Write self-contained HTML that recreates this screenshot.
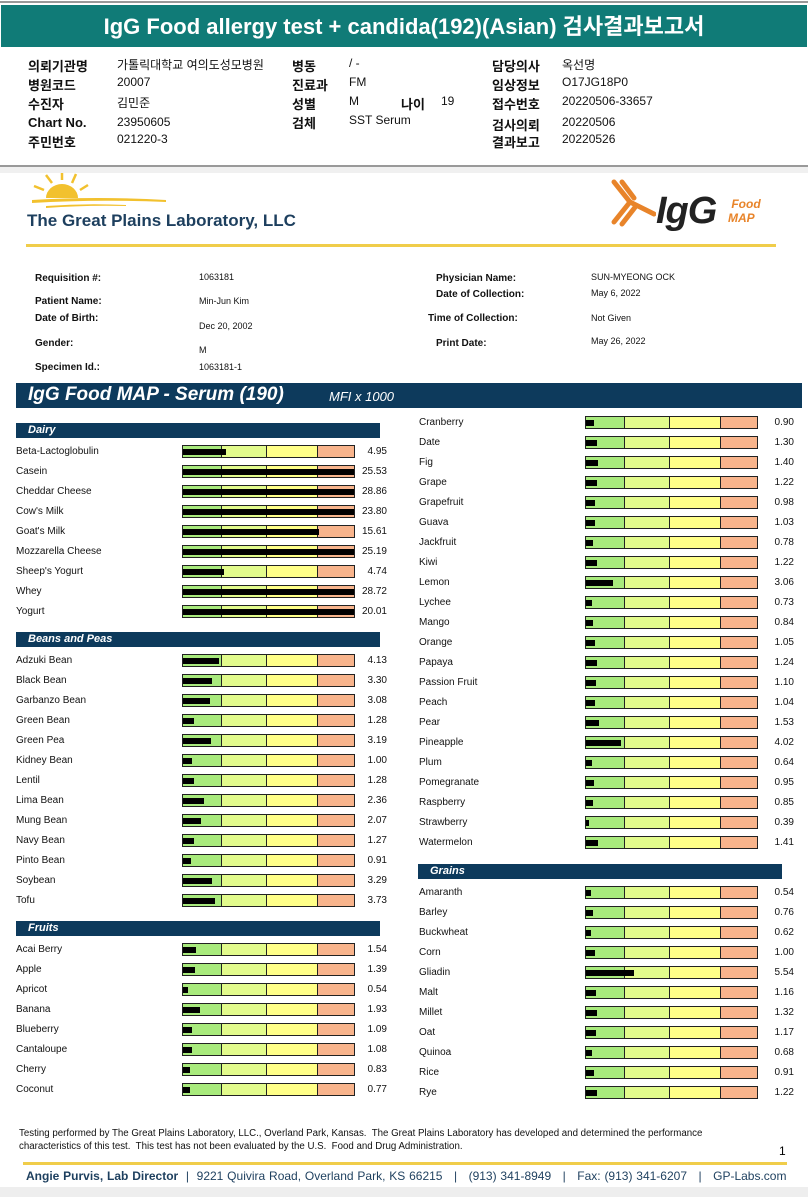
<!DOCTYPE html>
<html><head><meta charset="utf-8"><style>
body{margin:0;width:808px;height:1197px;position:relative;background:#fff;font-family:"Liberation Sans","Noto Sans CJK KR",sans-serif;overflow:hidden}
.a{position:absolute;white-space:nowrap}
.k{font-family:"Liberation Sans","Noto Sans CJK KR",sans-serif;font-size:12px;color:#111}
.kb{font-weight:bold;font-size:13px}
.pl{font-size:10px;font-weight:bold;color:#111}
.pv{font-size:9px;color:#111}
.sec{position:absolute;height:15px;background:#0d3a5c;color:#fff;font-weight:bold;font-style:italic;font-size:11px;line-height:15px;padding-left:12px;box-sizing:border-box}
.lbl{position:absolute;font-size:10px;color:#111;white-space:nowrap}
.val{position:absolute;font-size:10px;color:#111;text-align:right;width:40px}
.trk{position:absolute;height:13px;border:1px solid #222;box-sizing:border-box;display:flex}
.trk div{height:100%;box-sizing:border-box;border-right:1px solid #222}
.bar{position:absolute;height:6px;background:#000}
</style></head><body>
<div class="a" style="left:0;top:1px;width:808px;height:2px;background:#999"></div>
<div class="a" style="left:1px;top:5px;width:806px;height:42px;background:#107b77;color:#fff;font-weight:bold;font-size:22px;line-height:44px;text-align:center">IgG Food allergy test + candida(192)(Asian) 검사결과보고서</div>
<div>
<div class="a k kb" style="left:28px;top:56px">의뢰기관명</div><div class="a k" style="left:117px;top:56px">가톨릭대학교 여의도성모병원</div>
<div class="a k kb" style="left:292px;top:56px">병동</div><div class="a k" style="left:349px;top:56px">/ -</div>
<div class="a k kb" style="left:492px;top:56px">담당의사</div><div class="a k" style="left:562px;top:56px">옥선명</div>
<div class="a k kb" style="left:28px;top:75px">병원코드</div><div class="a k" style="left:117px;top:75px">20007</div>
<div class="a k kb" style="left:292px;top:75px">진료과</div><div class="a k" style="left:349px;top:75px">FM</div>
<div class="a k kb" style="left:492px;top:75px">임상정보</div><div class="a k" style="left:562px;top:75px">O17JG18P0</div>
<div class="a k kb" style="left:28px;top:94px">수진자</div><div class="a k" style="left:117px;top:94px">김민준</div>
<div class="a k kb" style="left:292px;top:94px">성별</div><div class="a k" style="left:349px;top:94px">M</div>
<div class="a k kb" style="left:401px;top:94px">나이</div><div class="a k" style="left:441px;top:94px">19</div>
<div class="a k kb" style="left:492px;top:94px">접수번호</div><div class="a k" style="left:562px;top:94px">20220506-33657</div>
<div class="a k kb" style="left:28px;top:115px">Chart No.</div><div class="a k" style="left:117px;top:115px">23950605</div>
<div class="a k kb" style="left:292px;top:113px">검체</div><div class="a k" style="left:349px;top:113px">SST Serum</div>
<div class="a k kb" style="left:492px;top:115px">검사의뢰</div><div class="a k" style="left:562px;top:115px">20220506</div>
<div class="a k kb" style="left:28px;top:132px">주민번호</div><div class="a k" style="left:117px;top:132px">021220-3</div>
<div class="a k kb" style="left:492px;top:132px">결과보고</div><div class="a k" style="left:562px;top:132px">20220526</div>
</div>
<div class="a" style="left:0;top:165px;width:808px;height:2px;background:#999"></div>
<div class="a" style="left:0;top:167px;width:808px;height:6px;background:#f0f0f0"></div>
<svg class="a" style="left:26px;top:170px" width="145" height="40" viewBox="0 0 145 40">
<path d="M20 28 A16 14 0 0 1 52 28 Z" fill="#f2c12e"/>
<g stroke="#f2c12e" stroke-width="2.5" fill="none"><path d="M36 10 L36 3"/><path d="M26 13 L20 5"/><path d="M46 13 L50 4"/><path d="M18 20 L8 16"/><path d="M54 20 L62 15"/></g>
<path d="M6 30 Q70 26 140 30 L140 32 Q70 29 6 33Z" fill="#f2c12e"/><path d="M20 36 Q60 33 100 35 L100 36 Q60 35 20 38Z" fill="#f2c12e"/></svg>
<div class="a" style="left:27px;top:211px;font-size:17px;font-weight:bold;color:#1d3f5e">The Great Plains Laboratory, LLC</div>
<svg class="a" style="left:606px;top:178px" width="50" height="50"><g stroke="#e8842a" stroke-width="5" fill="none" stroke-linecap="round"><path d="M8 4 L24 24 L48 36"/><path d="M16 4 L28 20"/><path d="M24 24 L8 44"/><path d="M30 28 L16 46"/></g></svg>
<div class="a" style="left:656px;top:190px;font-size:38px;font-weight:bold;font-style:italic;color:#222;letter-spacing:-1px">IgG</div>
<div class="a" style="left:728px;top:197px;font-size:12px;font-weight:bold;font-style:italic;color:#e8842a;line-height:14px">&nbsp;Food<br>MAP</div>
<div class="a" style="left:26px;top:244px;width:750px;height:3px;background:#f0cd4a"></div>
<div>
<div class="a pl" style="left:35px;top:273px">Requisition #:</div><div class="a pv" style="left:199px;top:272px">1063181</div>
<div class="a pl" style="left:35px;top:296px">Patient Name:</div><div class="a pv" style="left:199px;top:296px">Min-Jun Kim</div>
<div class="a pl" style="left:35px;top:313px">Date of Birth:</div><div class="a pv" style="left:199px;top:321px">Dec 20, 2002</div>
<div class="a pl" style="left:35px;top:338px">Gender:</div><div class="a pv" style="left:199px;top:345px">M</div>
<div class="a pl" style="left:35px;top:362px">Specimen Id.:</div><div class="a pv" style="left:199px;top:362px">1063181-1</div>
<div class="a pl" style="left:436px;top:273px">Physician Name:</div><div class="a pv" style="left:591px;top:272px">SUN-MYEONG OCK</div>
<div class="a pl" style="left:436px;top:289px">Date of Collection:</div><div class="a pv" style="left:591px;top:288px">May 6, 2022</div>
<div class="a pl" style="left:428px;top:313px">Time of Collection:</div><div class="a pv" style="left:591px;top:313px">Not Given</div>
<div class="a pl" style="left:436px;top:338px">Print Date:</div><div class="a pv" style="left:591px;top:336px">May 26, 2022</div>
</div>
<div class="a" style="left:16px;top:383px;width:786px;height:25px;background:#0d3a5c"></div>
<div class="a" style="left:28px;top:384px;font-size:19px;font-weight:bold;font-style:italic;color:#fff">IgG Food MAP - Serum (190)</div>
<div class="a" style="left:329px;top:389px;font-size:13px;font-style:italic;color:#fff">MFI x 1000</div>
<div id="chart"></div>
<div class="a" style="left:19px;top:1127px;font-size:9.7px;color:#111;line-height:13px">Testing performed by The Great Plains Laboratory, LLC., Overland Park, Kansas.&nbsp; The Great Plains Laboratory has developed and determined the performance<br>characteristics of this test.&nbsp; This test has not been evaluated by the U.S.&nbsp; Food and Drug Administration.</div>
<div class="a" style="left:779px;top:1144px;font-size:12px">1</div>
<div class="a" style="left:23px;top:1162px;width:764px;height:3px;background:#f0cd4a"></div>
<div class="a" style="left:26px;top:1169px;font-size:12px;color:#1d3f5e;word-spacing:0.5px"><b>Angie Purvis, Lab Director</b> &nbsp;|&nbsp; 9221 Quivira Road, Overland Park, KS 66215 &nbsp;&nbsp;|&nbsp;&nbsp; (913) 341-8949 &nbsp;&nbsp;|&nbsp;&nbsp; Fax: (913) 341-6207 &nbsp;&nbsp;|&nbsp;&nbsp; GP-Labs.com</div>
<div class="a" style="left:0;top:1187px;width:808px;height:10px;background:#eee"></div>
<script>
const dairyFoods=["Beta-Lactoglobulin","Casein","Cheddar Cheese","Cow's Milk","Goat's Milk","Mozzarella Cheese","Sheep's Yogurt","Whey","Yogurt"];
const dairyValues=[4.95,25.53,28.86,23.80,15.61,25.19,4.74,28.72,20.01];
const beanFoods=["Adzuki Bean","Black Bean","Garbanzo Bean","Green Bean","Green Pea","Kidney Bean","Lentil","Lima Bean","Mung Bean","Navy Bean","Pinto Bean","Soybean","Tofu"];
const beanValues=[4.13,3.30,3.08,1.28,3.19,1.00,1.28,2.36,2.07,1.27,0.91,3.29,3.73];
const fruitFoods=["Acai Berry","Apple","Apricot","Banana","Blueberry","Cantaloupe","Cherry","Coconut","Cranberry","Date","Fig","Grape","Grapefruit","Guava","Jackfruit","Kiwi","Lemon","Lychee","Mango","Orange","Papaya","Passion Fruit","Peach","Pear","Pineapple","Plum","Pomegranate","Raspberry","Strawberry","Watermelon"];
const fruitValues=[1.54,1.39,0.54,1.93,1.09,1.08,0.83,0.77,0.90,1.30,1.40,1.22,0.98,1.03,0.78,1.22,3.06,0.73,0.84,1.05,1.24,1.10,1.04,1.53,4.02,0.64,0.95,0.85,0.39,1.41];
const grainFoods=["Amaranth","Barley","Buckwheat","Corn","Gliadin","Malt","Millet","Oat","Quinoa","Rice","Rye"];
const grainValues=[0.54,0.76,0.62,1.00,5.54,1.16,1.32,1.17,0.68,0.91,1.22];
const pxPerUnit=8.7;
const chart=document.getElementById('chart');
function x(v,w){return Math.min(v*pxPerUnit,w-2);}
function section(name,sx,sy,sw){const d=document.createElement('div');d.className='sec';


d.style.left=sx+'px';d.style.top=sy+'px';d.style.width=sw+'px';d.textContent=name;chart.appendChild(d);}
function row(name,v,col,cy){
const lx=col?419:16, tx=col?585:182, tw=173, vx=col?754:347;
const l=document.createElement('div');l.className='lbl';


l.style.left=lx+'px';l.style.top=(cy-5)+'px';l.textContent=name;chart.appendChild(l);
const t=document.createElement('div');t.className='trk';


t.style.left=tx+'px';t.style.top=(cy-6)+'px';t.style.width=tw+'px';
[[39,'#a8ea7c'],[46,'#e2fb8c'],[52,'#ffff88'],[36,'#f8b48c']].forEach((s,i)=>{const c=document.createElement('div');c.style.width=s[0]+'px';c.style.background=s[1];if(i==3)c.style.borderRight='none';t.appendChild(c);});
chart.appendChild(t);
const b=document.createElement('div');b.className='bar';


b.style.left=(tx+1)+'px';b.style.top=(cy-2)+'px';b.style.width=x(v,tw)+'px';chart.appendChild(b);
const n=document.createElement('div');n.className='val';


n.style.left=vx+'px';n.style.top=(cy-5)+'px';n.textContent=v.toFixed(2);chart.appendChild(n);}
section('Dairy',16,423,364);
dairyFoods.forEach((f,i)=>row(f,dairyValues[i],0,451+i*20));
section('Beans and Peas',16,632,364);
beanFoods.forEach((f,i)=>row(f,beanValues[i],0,660+i*20));
section('Fruits',16,921,364);
fruitFoods.forEach((f,i)=>{if(i<8)row(f,fruitValues[i],0,949+i*20);else row(f,fruitValues[i],1,422+(i-8)*20);});
section('Grains',418,864,364);
grainFoods.forEach((f,i)=>row(f,grainValues[i],1,892+i*20));
</script>
</body></html>
